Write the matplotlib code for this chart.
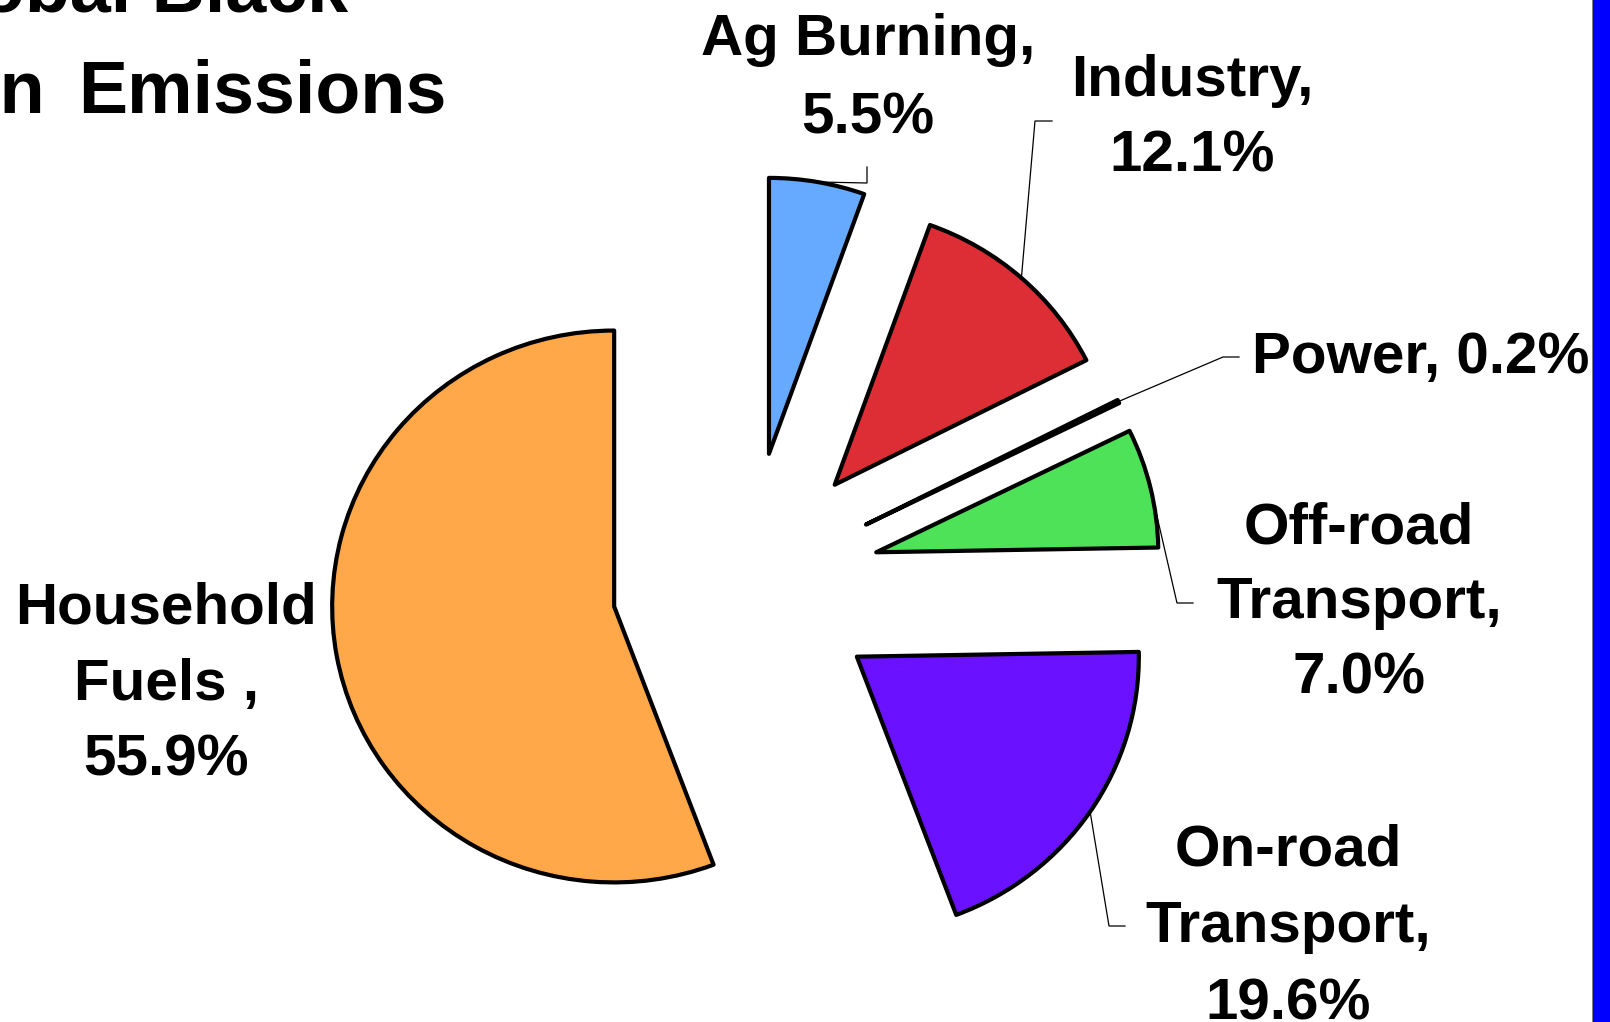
import math
import matplotlib
matplotlib.use("Agg")
import matplotlib.pyplot as plt
from matplotlib.patches import Rectangle

# Sources of global black carbon emissions (percent of total)
categories = ["Ag Burning", "Industry", "Power", "Off-road\nTransport",
              "On-road\nTransport", "Household\nFuels "]
shares = [5.5, 12.1, 0.2, 7.0, 19.6, 55.9]
colors = ["#66AAFF", "#DD2E35", "#F2E36A", "#4EE258", "#6A12FF", "#FFA84A"]
separators = [",\n", ",\n", ", ", ",\n", ",\n", ",\n"]

W, H = 1610, 1022
SY = 1.022  # vertical squash of the pie (slightly wider than tall)


def px(x, y):
    """Pixel position (from the top-left) to data coordinates."""
    return x, (H - y) * SY


fig = plt.figure(figsize=(W / 100, H / 100), dpi=100)
fig.patch.set_facecolor("white")
ax = fig.add_axes([0, 0, 1, 1])

radius = 282
gap = 134
cx, cy = px(746, 583)

wedges, _ = ax.pie(
    shares,
    explode=[gap] * len(shares),
    colors=colors,
    startangle=90,
    counterclock=False,
    radius=radius,
    center=(cx, cy),
    wedgeprops=dict(edgecolor="black", linewidth=3.0, joinstyle="round"),
)
for w in wedges:
    w.set_zorder(3)

ax.set_xlim(0, W)
ax.set_ylim(0, H * SY)
ax.set_aspect("auto")
ax.axis("off")

font = dict(family=["Liberation Sans", "DejaVu Sans"], fontweight="bold",
            fontsize=42, color="black")

# label layout: anchor x, first baseline y (pixels), line step, alignment
label_layout = [
    (868, 55, 78, "center"),
    (1192, 96, 75, "center"),
    (1252, 373, 0, "left"),
    (1359, 543, 75, "center"),
    (1288, 865, 77, "center"),
    (166, 624, 76, "center"),
]
# leader lines: elbow and end points in pixels (None = no leader)
leaders = [
    ((867, 183), (867, 167)),
    ((1035, 121), (1052, 121)),
    ((1223, 357), (1239, 357)),
    ((1177, 603), (1193, 603)),
    ((1109, 926), (1125, 926)),
    None,
]

for name, share, sep, (lx, ly, step, ha), lead, w in zip(
        categories, shares, separators, label_layout, leaders, wedges):
    text = f"{name}{sep}{share:.1f}%"
    for i, line in enumerate(text.split("\n")):
        x, y = px(lx, ly + i * step)
        ax.text(x, y, line, ha=ha, va="baseline", zorder=4, **font)
    if lead is not None:
        th = math.radians((w.theta1 + w.theta2) / 2)
        sx = w.center[0] + w.r * math.cos(th)
        sy = w.center[1] + w.r * math.sin(th)
        (ex, ey), (fx, fy) = lead
        xs = [sx, px(ex, ey)[0], px(fx, fy)[0]]
        ys = [sy, px(ex, ey)[1], px(fx, fy)[1]]
        ax.plot(xs, ys, color="black", linewidth=0.9, zorder=2,
                solid_joinstyle="miter")

# Title, each word placed by its right edge
title_font = dict(family=["Liberation Sans", "DejaVu Sans"], fontweight="bold",
                  fontsize=53, color="black")
title_words = [("Global Black", 348, 12), ("Carbon", 45, 113),
               ("Emissions", 446, 113)]
for word, tx, ty in title_words:
    x, y = px(tx, ty)
    ax.text(x, y, word, ha="right", va="baseline", zorder=4, **title_font)

# Slide border on the right edge
fig.add_artist(Rectangle((1593 / W, 0), (W - 1593) / W, 1,
                         transform=fig.transFigure, facecolor="#0000FF",
                         edgecolor="none", zorder=10))
fig.add_artist(Rectangle((1591.5 / W, 0), 1.5 / W, 1,
                         transform=fig.transFigure, facecolor="#808080",
                         edgecolor="none", zorder=10))

fig.savefig("out.png", dpi=100, facecolor="white")
